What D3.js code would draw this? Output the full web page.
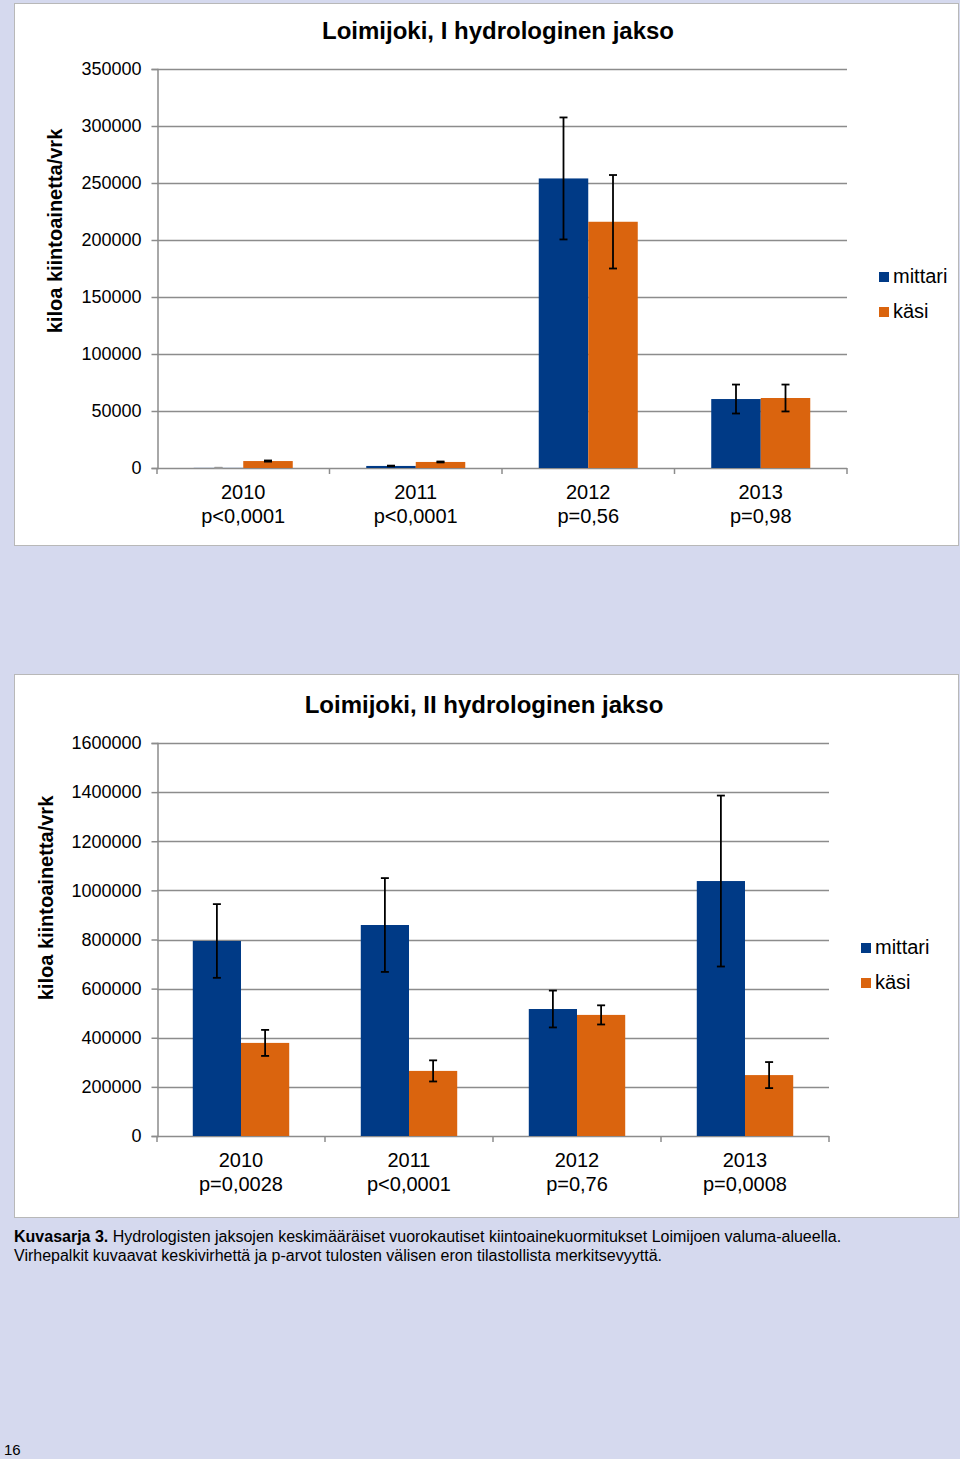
<!DOCTYPE html>
<html>
<head>
<meta charset="utf-8">
<script src="https://cdn.jsdelivr.net/npm/d3@7"></script>
<style>
  body { margin: 0; background: #d5d9ee; }
  svg { display: block; font-family: "Liberation Sans", Arial, sans-serif; }
</style>
</head>
<body>
<svg id="page" width="960" height="1459"></svg>
<script>
// data
var years = ["2010", "2011", "2012", "2013"];
var series = ["mittari", "käsi"];

var pvals1 = ["p<0,0001", "p<0,0001", "p=0,56", "p=0,98"];
var mittari1 = [100, 1800, 254000, 60500];
var mittariErr1 = [150, 300, 53500, 12700];
var kasi1 = [6100, 5300, 216000, 61400];
var kasiErr1 = [500, 400, 41000, 11800];
var ticks1 = [0, 50000, 100000, 150000, 200000, 250000, 300000, 350000];

var pvals2 = ["p=0,0028", "p<0,0001", "p=0,76", "p=0,0008"];
var mittari2 = [794000, 859000, 517000, 1038000];
var mittariErr2 = [150000, 191000, 75000, 348000];
var kasi2 = [379000, 265000, 493000, 248000];
var kasiErr2 = [53000, 43000, 39000, 53000];
var ticks2 = [0, 200000, 400000, 600000, 800000, 1000000, 1200000, 1400000, 1600000];

var colors = { "mittari": "#003a86", "käsi": "#da640e" };

var svg = d3.select("#page");
svg.append("rect").attr("width", 960).attr("height", 1459).attr("fill", "#d5d9ee");

function drawChart(c) {
    var g = svg.append("g");
    g.append("rect")
        .attr("x", c.box[0] + 0.5).attr("y", c.box[1] + 0.5)
        .attr("width", c.box[2]).attr("height", c.box[3])
        .attr("fill", "#fff").attr("stroke", "#b8b8b8");

    var x = d3.scaleBand().domain(years).range([c.left, c.right]).paddingInner(0.426).paddingOuter(0.213);
    var xs = d3.scaleBand().domain(series).range([0, x.bandwidth()]);
    var y = d3.scaleLinear().domain([0, c.max]).range([c.bottom, c.top]);

    // grid
    g.append("g").selectAll("line")
        .data(c.ticks.slice(1))
        .enter().append("line")
            .attr("x1", c.left).attr("x2", c.right)
            .attr("y1", function (d) { return Math.round(y(d)) + 0.5; })
            .attr("y2", function (d) { return Math.round(y(d)) + 0.5; })
            .attr("stroke", "#8c8c8c").attr("stroke-width", 1.5);

    // y axis
    var yAxis = d3.axisLeft(y).tickValues(c.ticks).tickSize(6).tickPadding(10).tickFormat(d3.format("d"));
    var ya = g.append("g").attr("transform", "translate(" + (c.left + 0.5) + ",0)").call(yAxis);
    ya.select(".domain").attr("stroke", "#8c8c8c").attr("stroke-width", 1.5);
    ya.selectAll(".tick line").attr("stroke", "#8c8c8c").attr("stroke-width", 1.5);
    ya.selectAll(".tick text").attr("font-size", "18px").attr("fill", "#000")
        .attr("font-family", "Liberation Sans, Arial, sans-serif");

    // x axis line and ticks at group boundaries
    var step = x.step();
    g.append("line").attr("x1", c.left).attr("x2", c.right)
        .attr("y1", c.bottom + 0.5).attr("y2", c.bottom + 0.5)
        .attr("stroke", "#8c8c8c").attr("stroke-width", 1.5);
    g.append("g").selectAll("line")
        .data(d3.range(years.length + 1))
        .enter().append("line")
            .attr("x1", function (i) { return c.left + i * step; })
            .attr("x2", function (i) { return c.left + i * step; })
            .attr("y1", c.bottom).attr("y2", c.bottom + 6)
            .attr("stroke", "#8c8c8c").attr("stroke-width", 1.5);

    // bars
    var rows = [];
    years.forEach(function (yr, i) {
        rows.push({ year: yr, s: "mittari", v: c.mittari[i], e: c.mittariErr[i] });
        rows.push({ year: yr, s: "käsi", v: c.kasi[i], e: c.kasiErr[i] });
    });
    g.append("g").selectAll("rect")
        .data(rows)
        .enter().append("rect")
            .attr("x", function (d) { return x(d.year) + xs(d.s); })
            .attr("y", function (d) { return y(d.v); })
            .attr("width", xs.bandwidth())
            .attr("height", function (d) { return c.bottom - y(d.v); })
            .attr("fill", function (d) { return colors[d.s]; });

    // error bars
    var eb = g.append("g").selectAll("g")
        .data(rows.filter(function (d) { return d.e > 0; }))
        .enter().append("g")
            .attr("stroke", function (d) { return d.v < 1000 ? "#999" : "#000"; })
            .attr("stroke-width", 1.8);
    eb.append("line")
        .attr("x1", function (d) { return x(d.year) + xs(d.s) + xs.bandwidth() / 2; })
        .attr("x2", function (d) { return x(d.year) + xs(d.s) + xs.bandwidth() / 2; })
        .attr("y1", function (d) { return y(d.v + d.e); })
        .attr("y2", function (d) { return y(Math.max(0, d.v - d.e)); });
    [1, -1].forEach(function (sgn) {
        eb.append("line")
            .attr("x1", function (d) { return x(d.year) + xs(d.s) + xs.bandwidth() / 2 - 4; })
            .attr("x2", function (d) { return x(d.year) + xs(d.s) + xs.bandwidth() / 2 + 4; })
            .attr("y1", function (d) { return y(Math.max(0, d.v + sgn * d.e)); })
            .attr("y2", function (d) { return y(Math.max(0, d.v + sgn * d.e)); });
    });

    // category labels
    var lab = g.append("g").selectAll("text")
        .data(years)
        .enter().append("text")
            .attr("x", function (d) { return x(d) + x.bandwidth() / 2; })
            .attr("y", c.bottom + 31)
            .attr("text-anchor", "middle")
            .attr("font-size", "20px");
    lab.append("tspan").text(function (d) { return d; });
    lab.append("tspan")
        .attr("x", function (d) { return x(d) + x.bandwidth() / 2; })
        .attr("dy", 24)
        .text(function (d, i) { return c.pvals[i]; });

    // title
    g.append("text").attr("x", c.titleX).attr("y", c.titleY)
        .attr("text-anchor", "middle").attr("font-size", "24px").attr("font-weight", "bold")
        .text(c.title);

    // y label
    g.append("text")
        .attr("transform", "translate(" + c.ylabX + "," + c.ylabY + ") rotate(-90)")
        .attr("text-anchor", "middle").attr("font-size", "20px").attr("font-weight", "bold")
        .text("kiloa kiintoainetta/vrk");

    // legend
    series.forEach(function (s, i) {
        g.append("rect").attr("x", c.legX).attr("y", c.legY + i * 35)
            .attr("width", 10).attr("height", 10).attr("fill", colors[s]);
        g.append("text").attr("x", c.legX + 14).attr("y", c.legY + 11 + i * 35)
            .attr("font-size", "20px").text(s);
    });
}

drawChart({
    box: [14, 3, 944, 542],
    left: 157, right: 847, top: 69, bottom: 468, max: 350000,
    ticks: ticks1, pvals: pvals1,
    mittari: mittari1, mittariErr: mittariErr1, kasi: kasi1, kasiErr: kasiErr1,
    title: "Loimijoki, I hydrologinen jakso", titleX: 498, titleY: 39,
    ylabX: 62, ylabY: 231, legX: 879, legY: 272
});

drawChart({
    box: [14, 674, 944, 543],
    left: 157, right: 829, top: 743, bottom: 1136, max: 1600000,
    ticks: ticks2, pvals: pvals2,
    mittari: mittari2, mittariErr: mittariErr2, kasi: kasi2, kasiErr: kasiErr2,
    title: "Loimijoki, II hydrologinen jakso", titleX: 484, titleY: 713,
    ylabX: 53, ylabY: 898, legX: 861, legY: 943
});

// caption
var cap = svg.append("text").attr("x", 14).attr("y", 1242).attr("font-size", "16px");
cap.append("tspan").attr("font-weight", "bold").text("Kuvasarja 3.");
cap.append("tspan").text(" Hydrologisten jaksojen keskimääräiset vuorokautiset kiintoainekuormitukset Loimijoen valuma-alueella.");
svg.append("text").attr("x", 14).attr("y", 1261).attr("font-size", "16px")
    .text("Virhepalkit kuvaavat keskivirhettä ja p-arvot tulosten välisen eron tilastollista merkitsevyyttä.");

svg.append("text").attr("x", 4).attr("y", 1455).attr("font-size", "15px").text("16");
</script>
</body>
</html>
